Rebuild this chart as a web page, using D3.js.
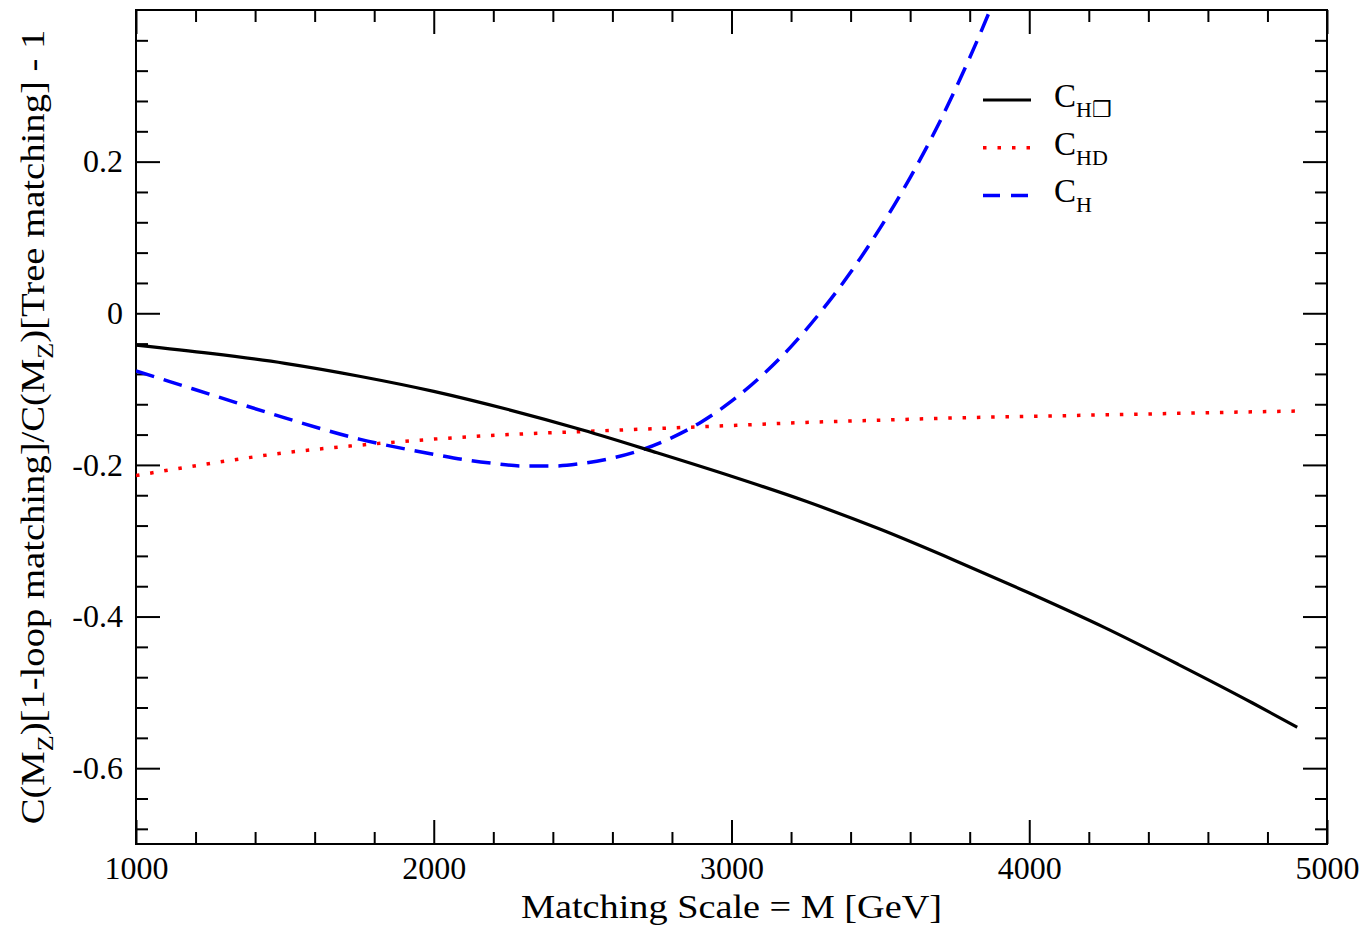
<!DOCTYPE html>
<html>
<head>
<meta charset="utf-8">
<script src="https://cdn.jsdelivr.net/npm/d3@7"></script>
<style>
  html, body { margin: 0; padding: 0; background: #fff; }
  svg { display: block; }
  text { font-family: "Liberation Serif", "Times New Roman", serif; fill: #000; }
</style>
</head>
<body>
<svg id="chart" width="1364" height="927"></svg>
<script>
// Matching scale M in GeV
const massCHBox = [1000, 1250, 1500, 1750, 2000, 2250, 2500, 2750, 3000, 3250, 3500, 3750, 4000, 4250, 4500, 4750, 4900];
const valueCHBox = [-0.042, -0.053, -0.066, -0.083, -0.103, -0.127, -0.154, -0.184, -0.215, -0.248, -0.285, -0.326, -0.369, -0.414, -0.463, -0.514, -0.546];

const massCHD = [1000, 1250, 1500, 1750, 2000, 2250, 2500, 2750, 3000, 3250, 3500, 3750, 4000, 4250, 4500, 4750, 4900];
const valueCHD = [-0.214, -0.198, -0.184, -0.174, -0.166, -0.160, -0.156, -0.152, -0.148, -0.144, -0.141, -0.138, -0.136, -0.134, -0.132, -0.130, -0.129];

const massCH = [1000, 1250, 1500, 1750, 2000, 2100, 2200, 2300, 2400, 2500, 2600, 2700, 2800, 2900, 3000, 3100, 3200, 3300, 3400, 3500, 3600, 3700, 3800, 3900];
const valueCH = [-0.076, -0.107, -0.138, -0.166, -0.186, -0.193, -0.198, -0.2015, -0.2015, -0.198, -0.191, -0.180, -0.164, -0.143, -0.116, -0.083, -0.044, 0.002, 0.054, 0.113, 0.179, 0.253, 0.337, 0.430];

const xMajorTicks = [1000, 2000, 3000, 4000, 5000];
const xTickLabels = ["1000", "2000", "3000", "4000", "5000"];
const yMajorTicks = [-0.6, -0.4, -0.2, 0, 0.2];
const yTickLabels = ["-0.6", "-0.4", "-0.2", "0", "0.2"];

(function drawChart() {
  const svg = d3.select("#chart");
  const pL = 136, pR = 1327, pT = 10, pB = 844;
  const W = pR - pL, H = pB - pT;

  const x = d3.scaleLinear().domain([1000, 5000]).range([pL, pR]);
  const y = d3.scaleLinear().domain([-0.7, 0.4]).range([pB, pT]);

  const xMinor = d3.range(1200, 5000, 200).filter(v => v % 1000 !== 0);
  const yMinor = d3.range(-0.68, 0.4, 0.04).map(v => +v.toFixed(2))
    .filter(v => !yMajorTicks.some(m => Math.abs(m - v) < 1e-6));

  const majorLen = 24, minorLen = 12;

  function styleAxis(g) {
    g.select(".domain").remove();
    g.selectAll(".tick line").attr("stroke", "#000").attr("stroke-width", 2);
  }

  // bottom axis with labels
  svg.append("g").attr("transform", `translate(0,${pB})`)
    .call(d3.axisBottom(x).tickValues(xMajorTicks).tickSize(-majorLen).tickPadding(12)
      .tickFormat((d, i) => xTickLabels[i]))
    .call(styleAxis)
    .call(g => g.selectAll("text").attr("font-size", 32).attr("dy", "0.71em")
      .style("font-family", "Liberation Serif, serif").attr("fill", "#000"));
  svg.append("g").attr("transform", `translate(0,${pB})`)
    .call(d3.axisBottom(x).tickValues(xMinor).tickSize(-minorLen).tickFormat(""))
    .call(styleAxis);

  // top axis (ticks only)
  svg.append("g").attr("transform", `translate(0,${pT})`)
    .call(d3.axisTop(x).tickValues(xMajorTicks).tickSize(-majorLen).tickFormat(""))
    .call(styleAxis);
  svg.append("g").attr("transform", `translate(0,${pT})`)
    .call(d3.axisTop(x).tickValues(xMinor).tickSize(-minorLen).tickFormat(""))
    .call(styleAxis);

  // left axis with labels
  svg.append("g").attr("transform", `translate(${pL},0)`)
    .call(d3.axisLeft(y).tickValues(yMajorTicks).tickSize(-majorLen).tickPadding(13)
      .tickFormat((d, i) => yTickLabels[i]))
    .call(styleAxis)
    .call(g => g.selectAll("text").attr("font-size", 32)
      .style("font-family", "Liberation Serif, serif").attr("fill", "#000"));
  svg.append("g").attr("transform", `translate(${pL},0)`)
    .call(d3.axisLeft(y).tickValues(yMinor).tickSize(-minorLen).tickFormat(""))
    .call(styleAxis);

  // right axis (ticks only)
  svg.append("g").attr("transform", `translate(${pR},0)`)
    .call(d3.axisRight(y).tickValues(yMajorTicks).tickSize(-majorLen).tickFormat(""))
    .call(styleAxis);
  svg.append("g").attr("transform", `translate(${pR},0)`)
    .call(d3.axisRight(y).tickValues(yMinor).tickSize(-minorLen).tickFormat(""))
    .call(styleAxis);

  // frame
  svg.append("rect").attr("x", pL).attr("y", pT).attr("width", W).attr("height", H)
    .attr("fill", "none").attr("stroke", "#000").attr("stroke-width", 2);

  // clip region for the curves
  svg.append("clipPath").attr("id", "plotClip")
    .append("rect").attr("x", pL).attr("y", pT).attr("width", W).attr("height", H);

  const line = d3.line().x(d => x(d[0])).y(d => y(d[1])).curve(d3.curveMonotoneX);
  const plot = svg.append("g").attr("clip-path", "url(#plotClip)");

  const series = [
    { m: massCHD, v: valueCHD, color: "#ff0000", width: 3.5, dash: "3.5 10.8" },
    { m: massCH, v: valueCH, color: "#0000ff", width: 3.5, dash: "19 10" },
    { m: massCHBox, v: valueCHBox, color: "#000000", width: 3.2, dash: null }
  ];
  series.forEach(s => {
    plot.append("path")
      .datum(s.m.map((m, i) => [m, s.v[i]]))
      .attr("d", line)
      .attr("fill", "none")
      .attr("stroke", s.color)
      .attr("stroke-width", s.width)
      .attr("stroke-dasharray", s.dash);
  });

  // legend
  const legend = [
    { sub: "H\u2752", color: "#000000", width: 3.2, dash: null },
    { sub: "HD", color: "#ff0000", width: 3.5, dash: "3.5 11" },
    { sub: "H", color: "#0000ff", width: 3.5, dash: "17 11" }
  ];
  legend.forEach((d, i) => {
    const ly = 100 + i * 47.7;
    svg.append("line").attr("x1", 983).attr("x2", 1031).attr("y1", ly).attr("y2", ly)
      .attr("stroke", d.color).attr("stroke-width", d.width).attr("stroke-dasharray", d.dash);
    const t = svg.append("text").attr("x", 1054).attr("y", ly + 7).attr("font-size", 33);
    t.append("tspan").text("C");
    t.append("tspan").attr("dy", 10).attr("font-size", 22).text(d.sub);
  });

  // axis titles (slightly widened serif face)
  svg.append("text")
    .attr("transform", `translate(${(pL + pR) / 2},918) scale(1.126,1)`)
    .attr("text-anchor", "middle").attr("font-size", 34)
    .text("Matching Scale = M [GeV]");

  const yt = svg.append("text")
    .attr("transform", `translate(44,${(pT + pB) / 2}) rotate(-90) scale(1.137,1)`)
    .attr("text-anchor", "middle").attr("font-size", 34);
  yt.append("tspan").text("C(M");
  yt.append("tspan").attr("dy", 9).attr("font-size", 23).text("Z");
  yt.append("tspan").attr("dy", -9).text(")[1-loop matching]/C(M");
  yt.append("tspan").attr("dy", 9).attr("font-size", 23).text("Z");
  yt.append("tspan").attr("dy", -9).text(")[Tree matching] - 1");
})();
</script>
</body>
</html>
